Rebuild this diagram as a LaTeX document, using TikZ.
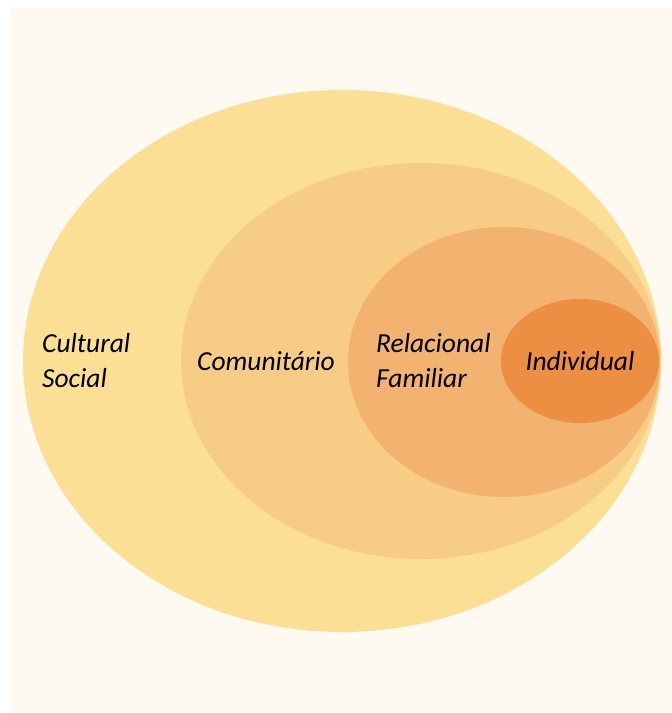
\documentclass[tikz,border=0pt]{standalone}
\usepackage{fontspec}
\setmainfont{Carlito}
\definecolor{bgcream}{RGB}{254,250,242}
\definecolor{cOuter}{RGB}{250,223,148}
\definecolor{cCom}{RGB}{247,204,133}
\definecolor{cRel}{RGB}{242,178,112}
\definecolor{cInd}{RGB}{236,143,66}
\tikzset{
  ring/.style={draw=none},
  lbl/.style={font=\itshape\fontsize{27.5}{35}\selectfont, text=black, align=left, inner sep=0pt}
}
\begin{document}
\begin{tikzpicture}[x=1pt,y=-1pt]
\useasboundingbox (0,0) rectangle (672,713);
\fill[white] (0,0) rectangle (672,713);
\fill[bgcream] (10,8) rectangle (672,713);
\fill[ring, cOuter] (342,361) ellipse [x radius=319, y radius=271];
\fill[ring, cCom] (421,361) ellipse [x radius=240, y radius=198];
\fill[ring, cRel] (504,362) ellipse [x radius=156, y radius=135];
\fill[ring, cInd] (580,361) ellipse [x radius=79, y radius=62];
\node[lbl, anchor=west] (cult) at (42,361) {Cultural\\Social};
\node[lbl, anchor=west] (com) at (197,361) {Comunitário};
\node[lbl, anchor=west] (rel) at (376,361) {Relacional\\Familiar};
\node[lbl] (ind) at (580,361) {Individual};
\end{tikzpicture}
\end{document}
